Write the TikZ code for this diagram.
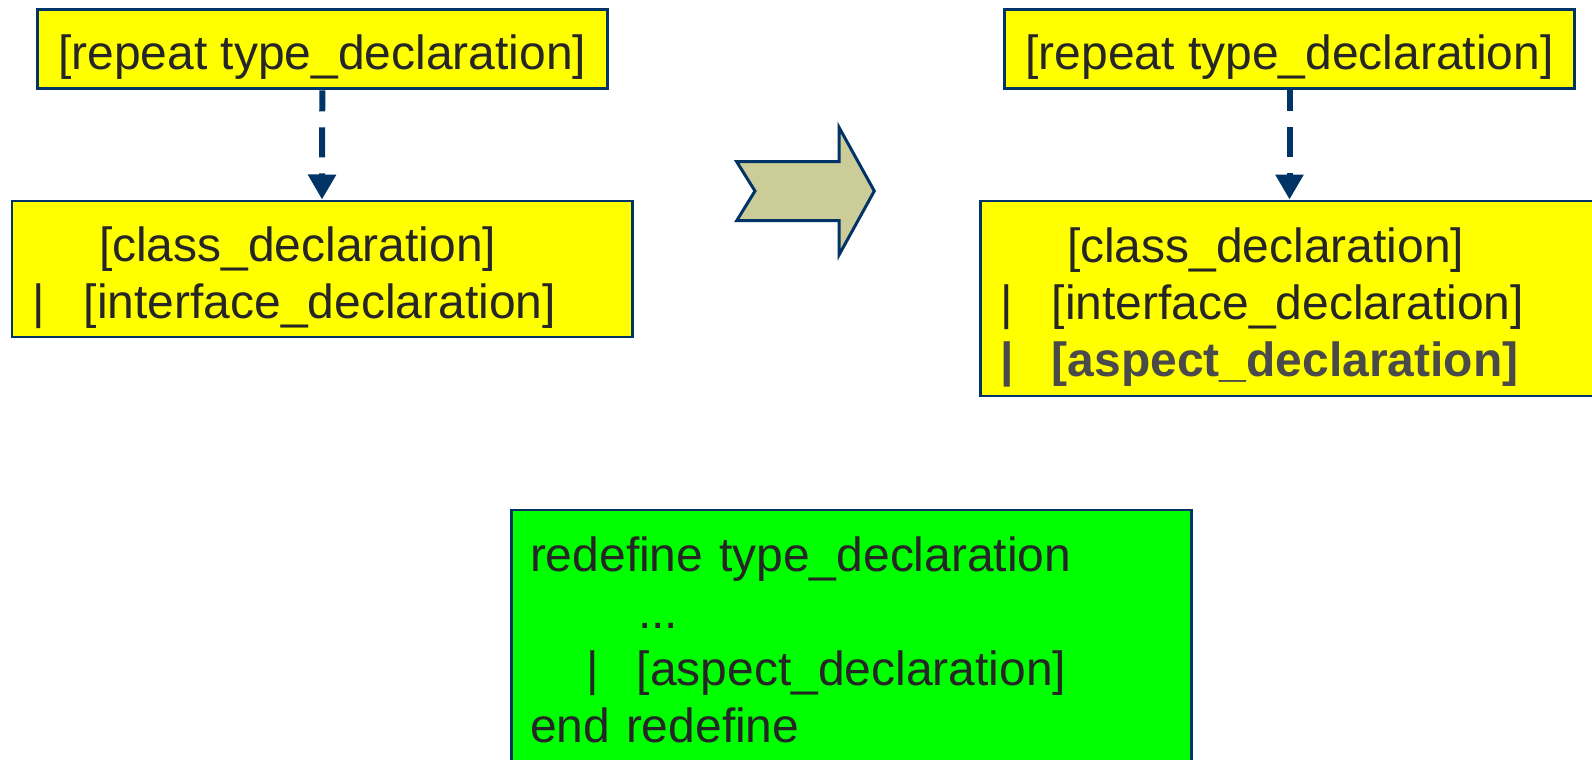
\documentclass[tikz,border=0pt]{standalone}
\usepackage{xcolor}
\usepackage{fontspec}
\setmainfont{Liberation Sans}
\usepackage{tikz}
\usetikzlibrary{arrows.meta,positioning,calc}
\definecolor{grammarnavy}{HTML}{003366}
\definecolor{grammaryellow}{HTML}{FFFF00}
\definecolor{grammargreen}{HTML}{00FF00}
\definecolor{chevronkhaki}{HTML}{CCCC99}
\definecolor{textgray}{HTML}{262626}
\definecolor{boldgray}{HTML}{4A4A4A}

\begin{document}
\begin{tikzpicture}[
  rulebox/.style={draw=grammarnavy, line width=1.7pt, rectangle, inner ysep=0pt, text=textgray, font=\fontsize{27.3}{32.5}\selectfont},
  listbox/.style={rulebox, align=left, inner xsep=0.41cm, anchor=center},
  refine/.style={draw=grammarnavy, line width=0.12cm, dash pattern={on 0.6cm off 0.32cm}, dash phase=0.18cm, -{Triangle[length=0.5cm, width=0.54cm]}},
]
\path[fill=white, use as bounding box] (0,0) rectangle (31.84,15.18);

% before
\node[rulebox, fill=grammaryellow, minimum width=11.39cm, minimum height=1.58cm] (repeatL) at (6.446,14.19) {\rule{0pt}{0.98cm}[repeat type\_declaration]};
\node[listbox, fill=grammaryellow, text width=11.58cm, minimum height=2.72cm] (alternL) at (6.44,9.80) {
  \rule{0pt}{1.06cm}\hspace*{1.33cm}[class\_declaration]\\
  \makebox[1.03cm][l]{|}[interface\_declaration]
};
\draw[refine] (repeatL.south) -- (alternL.north);

% transformation
\draw[draw=grammarnavy, line width=1.7pt, fill=chevronkhaki, line join=miter]
  (14.734,11.946) -- (16.78,11.946) -- (16.78,12.634) -- (17.486,11.36)
  -- (16.78,10.08) -- (16.78,10.766) -- (14.734,10.766) -- (15.10,11.36) -- cycle;

% after
\node[rulebox, fill=grammaryellow, minimum width=11.39cm, minimum height=1.58cm] (repeatR) at (25.79,14.19) {\rule{0pt}{0.98cm}[repeat type\_declaration]};
\node[listbox, fill=grammaryellow, text width=11.60cm, minimum height=3.9cm] (alternR) at (25.81,9.21) {
  \rule{0pt}{1.06cm}\hspace*{1.33cm}[class\_declaration]\\
  \makebox[1.03cm][l]{|}[interface\_declaration]\\
  {\bfseries\color{boldgray}\makebox[1.03cm][l]{|}[aspect\_declaration]}
};
\draw[refine] (repeatR.south) -- (repeatR.south |- alternR.north);

% redefinition
\node[listbox, fill=grammargreen, inner xsep=0.38cm, text width=12.84cm, minimum height=5.2cm] (redefine) at (17.02,2.38) {
  redefine type\_declaration\\
  \hspace*{2.16cm}...\\
  \hspace*{1.13cm}\makebox[1.01cm][l]{|}[aspect\_declaration]\\
  end redefine
};
\end{tikzpicture}
\end{document}
